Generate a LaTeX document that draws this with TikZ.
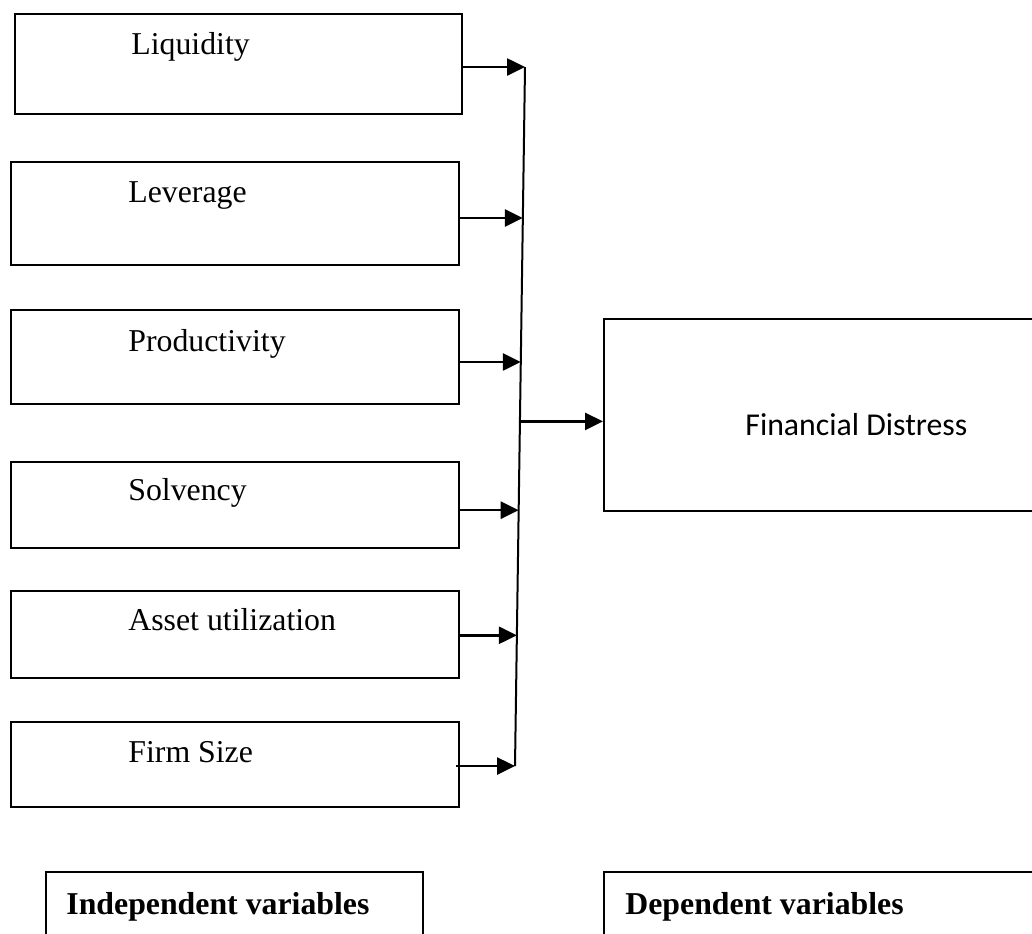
\documentclass[tikz,border=0pt]{standalone}
\usepackage{fontspec}
\setmainfont{Liberation Serif}
\newfontfamily\calibri{Carlito}
\usetikzlibrary{arrows.meta,calc}
\tikzset{
  varbox/.style={draw, line width=1pt, anchor=north west, inner sep=0pt, minimum width=224pt},
  varlbl/.style={anchor=base west, inner sep=0pt, font=\fontsize{15.9pt}{19pt}\selectfont},
  link/.style={line width=1.3pt, -{Triangle[length=9pt,width=8.5pt]}}
}
\begin{document}
\begin{tikzpicture}[x=0.5pt,y=-0.5pt]
  \useasboundingbox (0,0) rectangle (1032,933);
  \clip (0,0) rectangle (1032,933);
  % independent variables
  \node[varbox, minimum width=223.5pt, minimum height=50pt] (liq) at (14,13) {};
  \node[varbox, minimum height=51.5pt] (lev) at (10,161) {};
  \node[varbox, minimum height=47pt] (prod) at (10,309) {};
  \node[varbox, minimum height=43pt] (solv) at (10,461) {};
  \node[varbox, minimum height=43.5pt] (asset) at (10,590) {};
  \node[varbox, minimum height=42.5pt] (size) at (10,721) {};
  \node[varlbl] (liqtxt) at ($(liq.north west)+(117,41)$) {Liquidity};
  \node[varlbl] (levtxt) at ($(lev.north west)+(118,41)$) {Leverage};
  \node[varlbl] (prodtxt) at ($(prod.north west)+(118,42)$) {Productivity};
  \node[varlbl] (solvtxt) at ($(solv.north west)+(118,39)$) {Solvency};
  \node[varlbl] (assettxt) at ($(asset.north west)+(118,40)$) {Asset utilization};
  \node[varlbl] (sizetxt) at ($(size.north west)+(118,41)$) {Firm Size};
  % dependent variable
  \node[varbox, minimum width=218.5pt, minimum height=96pt] (fd) at (603,318) {};
  \node[varlbl, font=\calibri\fontsize{15.9pt}{19pt}\selectfont] (fdtxt) at ($(fd.north west)+(142,117)$) {Financial Distress};
  % collecting line
  \coordinate (top) at (525,67);
  \coordinate (bot) at (515,766);
  \coordinate (j2) at ($(top)!0.216!(bot)$);
  \coordinate (j3) at ($(top)!0.422!(bot)$);
  \coordinate (j4) at ($(top)!0.634!(bot)$);
  \coordinate (j5) at ($(top)!0.813!(bot)$);
  \coordinate (jm) at ($(top)!0.507!(bot)$);
  \draw[line width=1pt] (top) -- (bot);
  \draw[link] (top -| liq.east) -- (top);
  \draw[link] (j2 -| lev.east) -- (j2);
  \draw[link] (j3 -| prod.east) -- (j3);
  \draw[link] (j4 -| solv.east) -- (j4);
  \draw[link] (j5 -| asset.east) -- (j5);
  \draw[link] ($(bot -| size.east)+(-4,0)$) -- (bot);
  \draw[link] (jm) -- (jm -| fd.west);
  % legend
  \node[varbox, minimum width=188.5pt, minimum height=40pt] (indep) at (45,871) {};
  \node[varbox, minimum width=218.5pt, minimum height=40pt] (dep) at (603,871) {};
  \node[varlbl, font=\bfseries\fontsize{15.9pt}{19pt}\selectfont] (indeptxt) at ($(indep.north west)+(21,43)$) {Independent variables};
  \node[varlbl, font=\bfseries\fontsize{15.9pt}{19pt}\selectfont] (deptxt) at ($(dep.north west)+(22,43)$) {Dependent variables};
\end{tikzpicture}
\end{document}
